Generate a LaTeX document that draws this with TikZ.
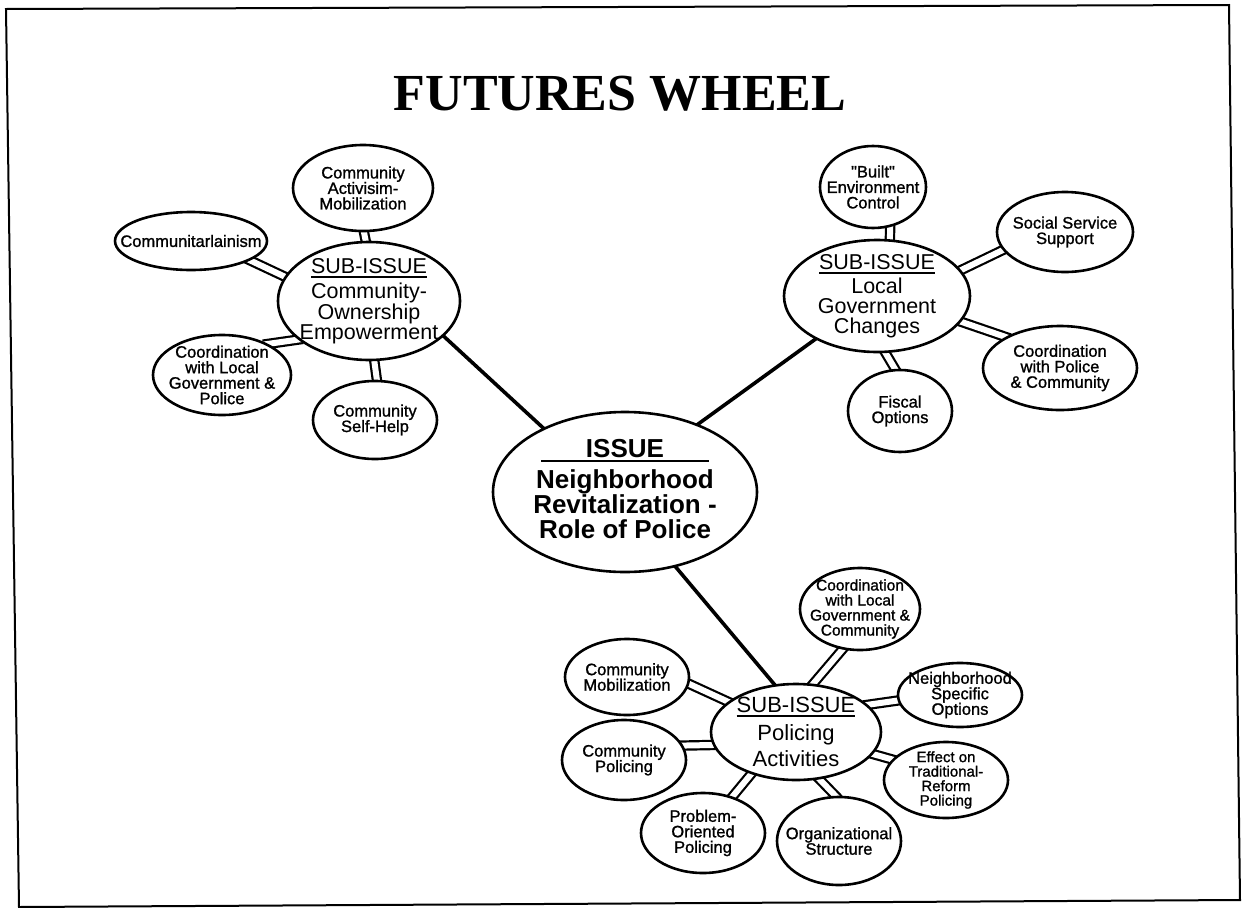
\documentclass[tikz,border=0pt]{standalone}
\usepackage{fontspec}
\setmainfont{Liberation Sans}
\newfontfamily\titlefont{Liberation Serif}
\newfontfamily\smallfont[FakeBold=1.2]{Liberation Sans}
\usetikzlibrary{shapes.geometric,backgrounds}
\newcommand\hdrul[1]{\setbox0=\hbox{#1}\rlap{\rule[-4.5pt]{\wd0}{1.8pt}}\box0}
\tikzset{
  bub/.style={draw, ellipse, line width=2.6pt, fill=white, inner sep=0pt, outer sep=0pt},
  lab/.style={font=\smallfont\fontsize{16.5}{15.5}\selectfont, align=center, inner sep=0pt},
  sublab/.style={font=\fontsize{21.5}{20}\selectfont, align=center, inner sep=0pt},
  spoke/.style={line width=3.6pt, shorten <=-3pt, shorten >=-3pt},
  twin/.style={line width=2.2pt, double, double distance=6pt, shorten <=-3pt, shorten >=-3pt},
}
\begin{document}
\begin{tikzpicture}[x=1pt,y=-1pt]
\useasboundingbox (0,0) rectangle (1243,908);
% frame
\draw[line width=2pt] (6,9) -- (1229,5) -- (1240,900) -- (19,907) -- cycle;
% title
\node[font=\titlefont\bfseries\fontsize{52}{52}\selectfont, anchor=base, inner sep=0pt] (title) at (620,110) {FUTURES WHEEL};

% central issue
\node[bub, minimum width=264pt, minimum height=160pt,
  label={[font=\bfseries\fontsize{26}{25}\selectfont, align=center, inner sep=0pt, yshift=3pt]center:\hdrul{\makebox[168pt]{ISSUE}}\\[6pt]Neighborhood\\Revitalization -\\Role of Police}] (issue) at (625,492) {};

% sub-issues
\node[bub, minimum width=182pt, minimum height=118pt,
  label={[sublab]center:\hdrul{SUB-ISSUE}\\[4pt]Community-\\Ownership\\Empowerment}] (sub1) at (369,301) {};
\node[bub, minimum width=186pt, minimum height=112pt,
  label={[sublab]center:\hdrul{SUB-ISSUE}\\[3pt]Local\\Government\\Changes}] (sub2) at (877,296) {};
\node[bub, minimum width=170pt, minimum height=96pt,
  label={[sublab, font=\fontsize{22}{26}\selectfont]center:\hdrul{SUB-ISSUE}\\[2pt]Policing\\Activities}] (sub3) at (796,732) {};

% left cluster
\node[bub, minimum width=140pt, minimum height=86pt, label={[lab]center:Community\\Activisim-\\Mobilization}] (act) at (363,188) {};
\node[bub, minimum width=152pt, minimum height=58pt, label={[lab]center:Communitarlainism}] (comm) at (191,241) {};
\node[bub, minimum width=138pt, minimum height=80pt, label={[lab]center:Coordination\\with Local\\Government \&\\Police}] (coordL) at (222,375) {};
\node[bub, minimum width=124pt, minimum height=78pt, label={[lab]center:Community\\Self-Help}] (self) at (375,420) {};

% right cluster
\node[bub, minimum width=106pt, minimum height=82pt, label={[lab]center:"Built"\\Environment\\Control}] (built) at (873,187) {};
\node[bub, minimum width=136pt, minimum height=80pt, label={[lab]center:Social Service\\Support}] (social) at (1065,232) {};
\node[bub, minimum width=154pt, minimum height=84pt, label={[lab]center:Coordination\\with Police\\\& Community}] (coordP) at (1060,368) {};
\node[bub, minimum width=104pt, minimum height=82pt, label={[lab]center:Fiscal\\Options}] (fiscal) at (900,411) {};

% bottom cluster
\node[bub, minimum width=120pt, minimum height=82pt, label={[lab, font=\smallfont\fontsize{15.5}{15}\selectfont]center:Coordination\\with Local\\Government \&\\Community}] (coordB) at (860,609) {};
\node[bub, minimum width=124pt, minimum height=64pt, label={[lab]center:Neighborhood\\Specific\\Options}] (neigh) at (960,695) {};
\node[bub, minimum width=124pt, minimum height=76pt, label={[lab, font=\smallfont\fontsize{15}{14.5}\selectfont]center:Effect on\\Traditional-\\Reform\\Policing}] (effect) at (946,780) {};
\node[bub, minimum width=124pt, minimum height=88pt, label={[lab]center:Organizational\\Structure}] (org) at (839,841) {};
\node[bub, minimum width=124pt, minimum height=80pt, label={[lab]center:Problem-\\Oriented\\Policing}] (prob) at (703,833) {};
\node[bub, minimum width=124pt, minimum height=80pt, label={[lab]center:Community\\Policing}] (cpol) at (624,760) {};
\node[bub, minimum width=124pt, minimum height=76pt, label={[lab]center:Community\\Mobilization}] (cmob) at (627,677) {};

\begin{pgfonlayer}{background}
% main spokes
\draw[spoke] (issue.142) -- (sub1.-25);
\draw[spoke] (issue.43) -- (sub2.215);
\draw[spoke] (issue.-56) -- (sub3.114);
% left
\draw[twin] (sub1.93) -- (act.-89);
\draw[twin] (sub1.164) -- (comm.-18);
\draw[twin] (sub1.209) -- (coordL.35);
\draw[twin] (sub1.-85) -- (self.87);
% right
\draw[twin] (sub2.77) -- (built.-66);
\draw[twin] (sub2.17.6) -- (social.196);
\draw[twin] (sub2.-17) -- (coordP.150);
\draw[twin] (sub2.-82) -- (fiscal.96);
% bottom
\draw[twin] (sub3.71) -- (coordB.-113);
\draw[twin] (sub3.21) -- (neigh.185);
\draw[twin] (sub3.-16) -- (effect.159);
\draw[twin] (sub3.-64) -- (org.93);
\draw[twin] (sub3.223) -- (prob.51);
\draw[twin] (sub3.189) -- (cpol.14);
\draw[twin] (sub3.156) -- (cmob.-6);
\end{pgfonlayer}
\end{tikzpicture}
\end{document}
